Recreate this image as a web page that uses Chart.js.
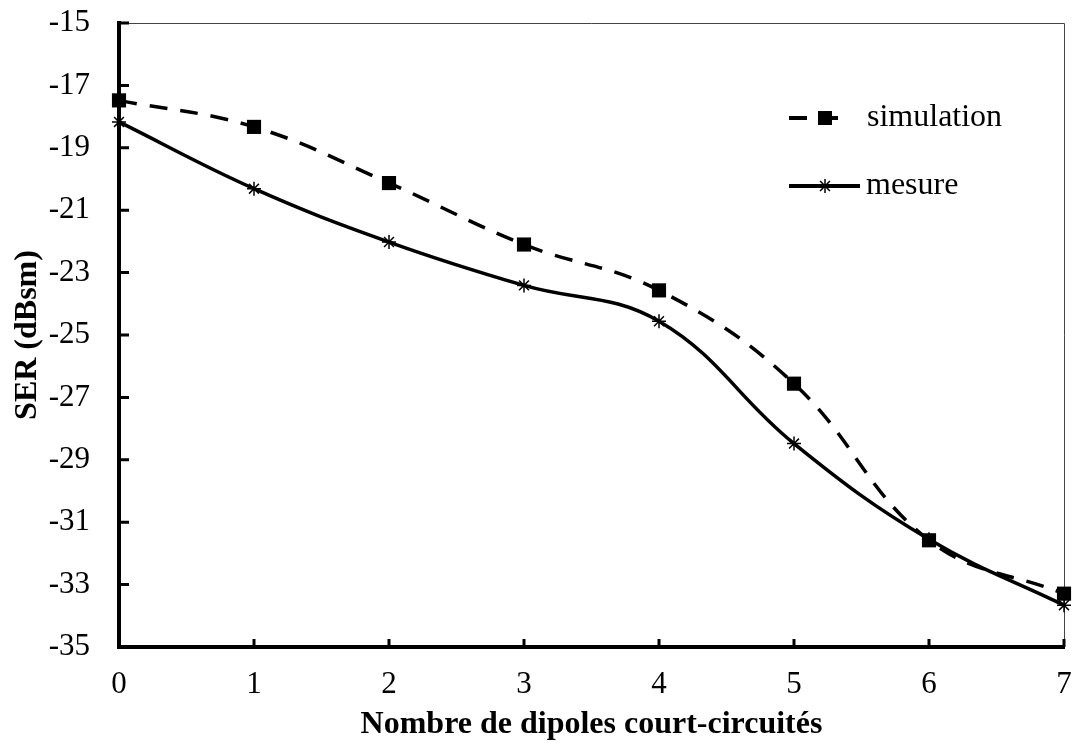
<!DOCTYPE html>
<html>
<head>
<meta charset="utf-8">
<script src="https://cdn.jsdelivr.net/npm/chart.js@4/dist/chart.umd.min.js"></script>
<style>
  html, body { margin: 0; padding: 0; background: #fff; }
  #wrap { width: 1075px; height: 749px; }
</style>
</head>
<body>
<div id="wrap"><canvas id="c" width="1075" height="749"></canvas></div>
<script>
const categories = ['0', '1', '2', '3', '4', '5', '6', '7'];
const simulation = [-17.48, -18.33, -20.13, -22.10, -23.57, -26.56, -31.58, -33.29];
const mesure = [-18.17, -20.31, -22.02, -23.41, -24.56, -28.48, -31.55, -33.66];
const seriesNames = ['simulation', 'mesure'];
const yMin = -35, yMax = -15, yStep = 2;
const xTitle = 'Nombre de dipoles court-circuités';
const yTitle = 'SER (dBsm)';

const FONT = '"Liberation Serif", "Times New Roman", serif';

const frame = {
  id: 'frame',
  beforeDatasetsDraw(chart) {
    const { ctx, chartArea: a, scales: { x, y } } = chart;
    ctx.save();
    ctx.strokeStyle = '#444';
    ctx.lineWidth = 1;
    ctx.beginPath();
    ctx.moveTo(a.left, a.top + 0.5);
    ctx.lineTo(a.right + 0.5, a.top + 0.5);
    ctx.lineTo(a.right + 0.5, a.bottom);
    ctx.stroke();
    ctx.strokeStyle = '#000';
    ctx.lineWidth = 3;
    ctx.beginPath();
    y.ticks.forEach(t => {
      const py = y.getPixelForValue(t.value);
      ctx.moveTo(a.left, py);
      ctx.lineTo(a.left + 10, py);
    });
    x.ticks.forEach((t, i) => {
      const px = x.getPixelForValue(i);
      ctx.moveTo(px, a.bottom);
      ctx.lineTo(px, a.bottom - 8);
    });
    ctx.stroke();
    ctx.restore();
  }
};

const legendPlugin = {
  id: 'customLegend',
  afterDraw(chart) {
    const { ctx, chartArea: a } = chart;
    const ds = chart.data.datasets;
    const x0 = a.right - 275;
    const rows = [
      { y: a.top + 95, x1: a.right - 219, mx: a.right - 239, tx: a.right - 197 },
      { y: a.top + 163, x1: a.right - 204, mx: a.right - 239, tx: a.right - 198 }
    ];
    ctx.save();
    rows.forEach((r, i) => {
      const d = ds[i];
      ctx.strokeStyle = '#000';
      ctx.lineWidth = 4;
      ctx.setLineDash(d.borderDash || []);
      ctx.beginPath();
      ctx.moveTo(x0, r.y);
      ctx.lineTo(r.x1, r.y);
      ctx.stroke();
      ctx.setLineDash([]);
      ctx.fillStyle = '#000';
      ctx.strokeStyle = '#000';
      if (d.pointStyle === 'rect') {
        ctx.fillRect(r.mx - 7, r.y - 7, 14, 14);
      } else {
        ctx.lineWidth = 1.5;
        Chart.helpers.drawPoint(ctx, {
          pointStyle: d.pointStyle, radius: d.pointRadius, borderWidth: 1.5, rotation: 0
        }, r.mx, r.y);
      }
      ctx.font = '32px ' + FONT;
      ctx.textBaseline = 'middle';
      ctx.textAlign = 'left';
      ctx.fillText(d.label, r.tx, r.y);
    });
    ctx.restore();
  }
};

new Chart(document.getElementById('c'), {
  type: 'line',
  data: {
    labels: categories,
    datasets: [
      {
        label: seriesNames[0],
        data: simulation,
        borderColor: '#000',
        backgroundColor: '#000',
        borderWidth: 3.5,
        borderDash: [18, 13],
        tension: 0.4,
        pointStyle: 'rect',
        pointRadius: 10,
        pointBorderWidth: 0,
        pointBackgroundColor: '#000',
        pointBorderColor: '#000',
        clip: false
      },
      {
        label: seriesNames[1],
        data: mesure,
        borderColor: '#000',
        backgroundColor: '#000',
        borderWidth: 3.5,
        tension: 0.4,
        pointStyle: 'star',
        pointRadius: 7,
        pointBorderWidth: 1.5,
        pointBackgroundColor: '#000',
        pointBorderColor: '#000',
        clip: false
      }
    ]
  },
  options: {
    responsive: false,
    animation: false,
    devicePixelRatio: 1,
    layout: { padding: { left: 0, right: 11, top: 23, bottom: 0 } },
    plugins: {
      legend: { display: false },
      tooltip: { enabled: false }
    },
    scales: {
      x: {
        offset: false,
        grid: { display: true, drawOnChartArea: false, drawTicks: true, tickLength: 19, tickColor: 'rgba(0,0,0,0)' },
        border: { display: true, color: '#000', width: 4 },
        ticks: { color: '#000', font: { family: FONT, size: 31 }, padding: 0, maxRotation: 0 },
        title: { display: true, text: xTitle, color: '#000', font: { family: FONT, size: 32, weight: 'bold' }, padding: { top: 0, bottom: 5 } },
        afterFit(s) { s.height = 102; }
      },
      y: {
        min: yMin, max: yMax,
        grid: { display: true, drawOnChartArea: false, drawTicks: true, tickLength: 29, tickColor: 'rgba(0,0,0,0)' },
        border: { display: true, color: '#000', width: 4 },
        ticks: { stepSize: yStep, color: '#000', font: { family: FONT, size: 31 }, padding: 0 },
        title: { display: true, text: yTitle, color: '#000', font: { family: FONT, size: 32, weight: 'bold' }, padding: { top: 9, bottom: 0 } },
        afterFit(s) { s.width = 119; }
      }
    }
  },
  plugins: [frame, legendPlugin]
});
</script>
</body>
</html>
